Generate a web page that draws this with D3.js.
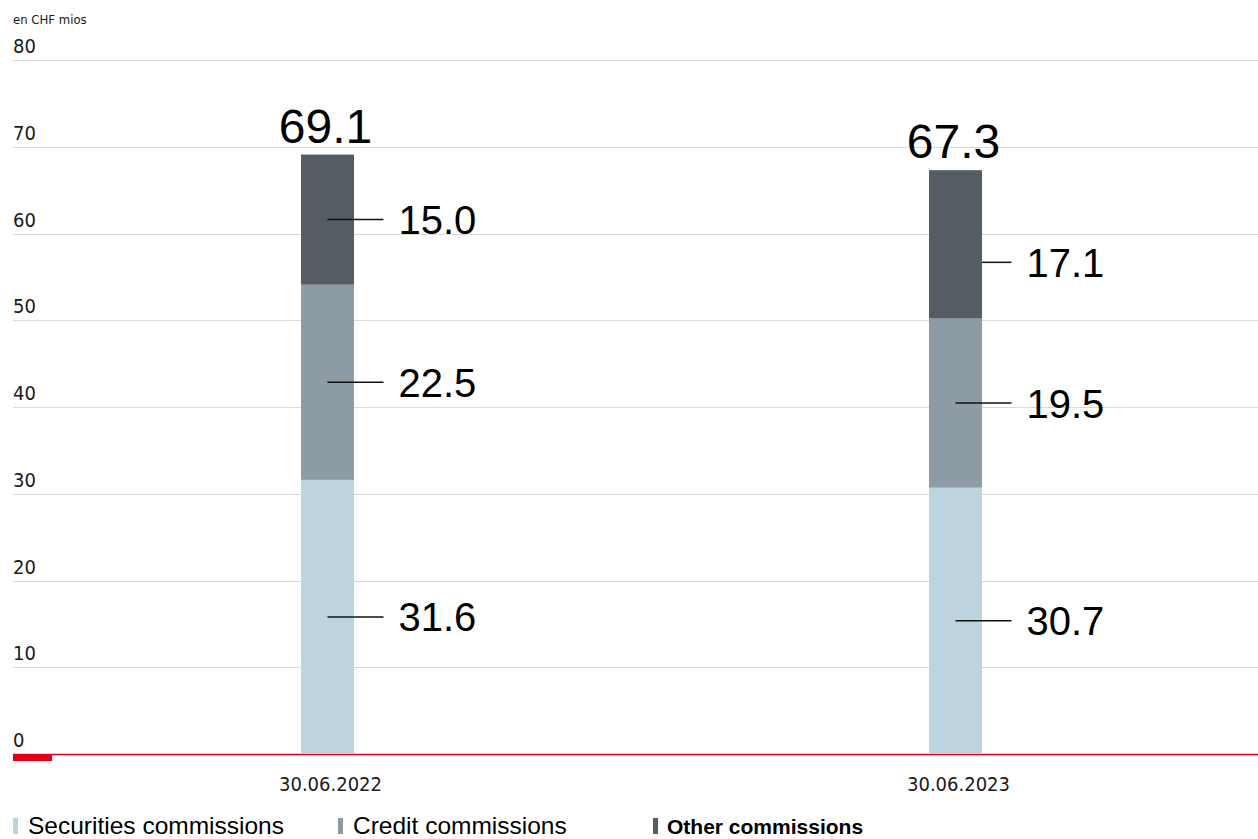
<!DOCTYPE html>
<html>
<head>
<meta charset="utf-8">
<script src="https://cdn.jsdelivr.net/npm/d3@7"></script>
<style>
  html, body { margin: 0; padding: 0; background: #fff; }
  svg { display: block; }
</style>
</head>
<body>
<svg id="chart" width="1258" height="839"></svg>
<script>
// Commission income by type, in CHF millions
const periods = ["30.06.2022", "30.06.2023"];
const seriesNames = ["Securities commissions", "Credit commissions", "Other commissions"];
const securities = [31.6, 30.7];
const credit = [22.5, 19.5];
const other = [15.0, 17.1];
const totals = [69.1, 67.3];
const yTicks = [0, 10, 20, 30, 40, 50, 60, 70, 80];
const unitLabel = "en CHF mios";

const colors = ["#bdd4df", "#8d9ba4", "#545d64"];
const narrow = "'Liberation Sans Narrow', 'DejaVu Sans Condensed', 'Arial Narrow', sans-serif";
const sans = "'Liberation Sans', Arial, Helvetica, sans-serif";

const svg = d3.select("#chart");
const left = 13, right = 1258;

const y = d3.scaleLinear().domain([0, 80]).range([754, 60]);
const x = d3.scaleBand().domain(periods).range([13.5, 1269.5]).padding(0);
const barW = 53;
const cx = p => x(p) + x.bandwidth() / 2;

// Gridlines
svg.append("g").selectAll("line").data(yTicks.filter(t => t > 0)).join("line")
  .attr("x1", left).attr("x2", right)
  .attr("y1", d => Math.round(y(d)) + 0.5).attr("y2", d => Math.round(y(d)) + 0.5)
  .attr("stroke", "#d9d9d9").attr("stroke-width", 1.2);

// Y tick labels sit above their gridlines
svg.append("g").selectAll("text").data(yTicks).join("text")
  .attr("x", left).attr("y", d => y(d) - 7)
  .attr("font-family", narrow).attr("font-size", 20).attr("fill", "#1a1a1a")
  .text(d => d);

svg.append("text").attr("x", left).attr("y", 24)
  .attr("font-family", narrow).attr("font-size", 13).attr("fill", "#1a1a1a")
  .text(unitLabel);

// Baseline
svg.append("line").attr("x1", left).attr("x2", right)
  .attr("y1", y(0) + 0.5).attr("y2", y(0) + 0.5)
  .attr("stroke", "#e2001a").attr("stroke-width", 1.3);
svg.append("rect").attr("x", left).attr("y", y(0)).attr("width", 39).attr("height", 7)
  .attr("fill", "#e2001a");

// Stacked bars
const rows = periods.map((p, i) => ({ period: p, s0: securities[i], s1: credit[i], s2: other[i] }));
const stack = d3.stack().keys(["s0", "s1", "s2"])(rows);

const layers = svg.append("g").selectAll("g").data(stack).join("g")
  .attr("fill", (d, i) => colors[i]);
layers.selectAll("rect").data(d => d).join("rect")
  .attr("x", d => cx(d.data.period) - barW / 2)
  .attr("width", barW)
  .attr("y", d => y(d[1]))
  .attr("height", d => y(d[0]) - y(d[1]));

// Segment value labels with leader lines
const segLabels = [];
stack.forEach((layer, li) => {
  layer.forEach(d => {
    segLabels.push({ period: d.data.period, value: d[1] - d[0], mid: (d[0] + d[1]) / 2, layer: li });
  });
});
// The top segment of the second bar has its label pushed down, clear of the 60 gridline
const shifted = { "30.06.2023|2": 18 };

const lg = svg.append("g");
segLabels.forEach(s => {
  const c = cx(s.period);
  const dy = shifted[s.period + "|" + s.layer] || 0;
  const ly = y(s.mid) + dy;
  const x0 = dy ? c + barW / 2 : c;
  lg.append("line").attr("x1", x0).attr("x2", c + 56)
    .attr("y1", ly).attr("y2", ly)
    .attr("stroke", "#111").attr("stroke-width", 1.5);
  lg.append("text").attr("x", c + 71).attr("y", ly + 14.5)
    .attr("font-family", sans).attr("font-size", 40).attr("fill", "#000")
    .text(d3.format(".1f")(s.value));
});

// Totals above bars
svg.append("g").selectAll("text").data(periods).join("text")
  .attr("x", (d, i) => cx(d) - 2)
  .attr("y", (d, i) => y(totals[i]) - 12)
  .attr("text-anchor", "middle")
  .attr("font-family", sans).attr("font-size", 48).attr("fill", "#000")
  .text((d, i) => d3.format(".1f")(totals[i]));

// Category labels
svg.append("g").selectAll("text").data(periods).join("text")
  .attr("x", d => cx(d) + 3).attr("y", 791)
  .attr("text-anchor", "middle")
  .attr("font-family", narrow).attr("font-size", 20).attr("fill", "#1a1a1a")
  .text(d => d);

// Legend
const legendX = [13, 338, 653];
const legend = svg.append("g").selectAll("g").data(seriesNames).join("g")
  .attr("transform", (d, i) => `translate(${legendX[i]},0)`);
legend.append("rect").attr("x", 0).attr("y", 818).attr("width", 5).attr("height", 16)
  .attr("fill", (d, i) => colors[i]);
legend.append("text").attr("x", (d, i) => i === 2 ? 14 : 15).attr("y", 834)
  .attr("font-family", sans)
  .attr("font-size", (d, i) => i === 2 ? 21 : 24.5)
  .attr("font-weight", (d, i) => i === 2 ? "bold" : "normal")
  .attr("fill", "#000")
  .text(d => d);
</script>
</body>
</html>
